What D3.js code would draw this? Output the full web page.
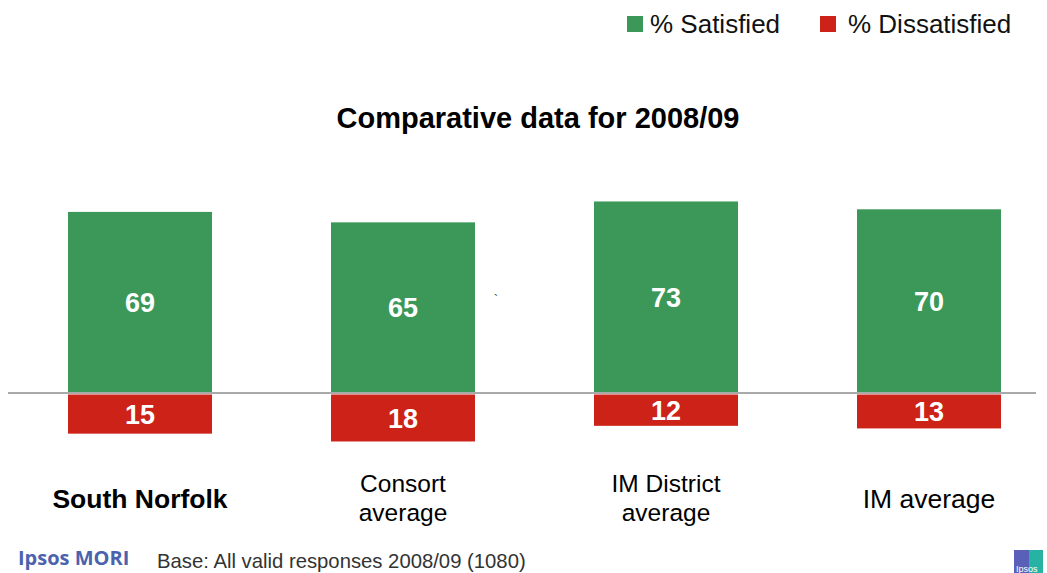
<!DOCTYPE html>
<html><head><meta charset="utf-8">
<script src="https://cdn.jsdelivr.net/npm/d3@7"></script>
<style>body{margin:0;background:#fff;font-family:"Liberation Sans",Arial,sans-serif}</style>
</head><body><svg id="c" width="1047" height="573"></svg>
<script>
const categories = ["South Norfolk", "Consort average", "IM District average", "IM average"];
const categoryLines = [["South Norfolk"], ["Consort", "average"], ["IM District", "average"], ["IM average"]];
const satisfied = [69, 65, 73, 70];
const dissatisfied = [15, 18, 12, 13];
const seriesNames = ["% Satisfied", "% Dissatisfied"];
const colors = ["#3b9858", "#cc2217"];

const svg = d3.select("#c");
const baseY = 393;
const x = d3.scaleBand().domain(categories).range([8.5, 1060.5]).paddingInner(0.4525).paddingOuter(0.22625);
const yUp = d3.scaleLinear().domain([0, 100]).range([baseY - 1, baseY - 1 - 261]);
const yDown = d3.scaleLinear().domain([0, 100]).range([baseY + 1.5, baseY + 1.5 + 261]);

// baseline
svg.append("line").attr("x1", 8).attr("x2", 1036).attr("y1", baseY).attr("y2", baseY)
  .attr("stroke", "#555").attr("stroke-width", 1);

// bars
svg.selectAll(".sat").data(categories).join("rect").attr("class", "sat")
  .attr("x", d => x(d)).attr("width", x.bandwidth())
  .attr("y", (d, i) => yUp(satisfied[i])).attr("height", (d, i) => yUp(0) - yUp(satisfied[i]))
  .attr("fill", colors[0]);
svg.selectAll(".dis").data(categories).join("rect").attr("class", "dis")
  .attr("x", d => x(d)).attr("width", x.bandwidth())
  .attr("y", yDown(0)).attr("height", (d, i) => yDown(dissatisfied[i]) - yDown(0))
  .attr("fill", colors[1]);

// value labels
const lab = {"font-size": "27px", "font-weight": "bold", fill: "#fff", "text-anchor": "middle", "dominant-baseline": "central"};
categories.forEach((c, i) => {
  const cx = x(c) + x.bandwidth() / 2;
  const t1 = svg.append("text").attr("x", cx).attr("y", (yUp(satisfied[i]) + yUp(0)) / 2 + 1).text(satisfied[i]);
  const t2 = svg.append("text").attr("x", cx).attr("y", (yDown(0) + yDown(dissatisfied[i])) / 2 + 1).text(dissatisfied[i]);
  for (const [k, v] of Object.entries(lab)) { t1.attr(k, v); t2.attr(k, v); }
  // category labels
  const lines = categoryLines[i];
  const single = lines.length === 1;
  lines.forEach((l, j) => {
    svg.append("text").attr("x", cx).attr("y", single ? 508 : 492 + j * 28.5)
      .attr("text-anchor", "middle").attr("font-size", single ? "26.5px" : "24.5px")
      .attr("fill", "#000").attr("font-weight", i === 0 ? "bold" : "normal").text(l);
  });
});

// title
svg.append("text").attr("x", 538).attr("y", 128).attr("text-anchor", "middle")
  .attr("font-size", "29px").attr("font-weight", "bold").attr("fill", "#000").text("Comparative data for 2008/09");

// legend
const legX = [627, 820];
const legTextX = [650, 848];
seriesNames.forEach((s, i) => {
  svg.append("rect").attr("x", legX[i]).attr("y", 16).attr("width", 16).attr("height", 16).attr("fill", colors[i]);
  svg.append("text").attr("x", legTextX[i]).attr("y", 33).attr("font-size", "26px").attr("fill", "#111").text(s);
});

// stray mark
svg.append("text").attr("x", 494).attr("y", 304).attr("font-size", "12px").attr("fill", "#333").text("`");

// footer
svg.append("text").attr("x", 18).attr("y", 565).attr("font-size", "20px").attr("font-weight", "bold")
  .attr("fill", "#4b63ad").attr("font-family", "'Open Sans',sans-serif").text("Ipsos MORI");
svg.append("text").attr("x", 157).attr("y", 568).attr("font-size", "20.3px").attr("fill", "#333").text("Base: All valid responses 2008/09 (1080)");
// small logo
svg.append("rect").attr("x", 1014).attr("y", 550).attr("width", 15).attr("height", 23).attr("fill", "#5a5fb8");
svg.append("rect").attr("x", 1029).attr("y", 550).attr("width", 14).attr("height", 23).attr("fill", "#26b3a3");
svg.append("text").attr("x", 1016).attr("y", 572).attr("font-size", "9px").attr("fill", "#fff").text("Ipsos");
</script></body></html>
